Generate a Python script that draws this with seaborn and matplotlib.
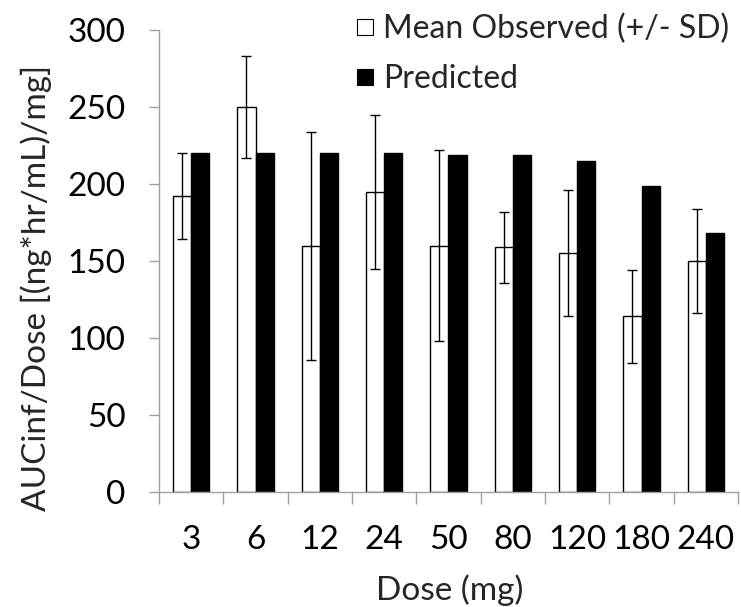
import matplotlib
matplotlib.use("Agg")
import matplotlib.pyplot as plt
import numpy as np
import pandas as pd
import seaborn as sns
from matplotlib.lines import Line2D
from matplotlib.ticker import FixedLocator, NullFormatter

# Dose levels and AUCinf/Dose values
doses = ["3", "6", "12", "24", "50", "80", "120", "180", "240"]
observed_mean = [192, 250, 160, 195, 160, 159, 155, 114, 150]
observed_sd = [28, 33, 74, 50, 62, 23, 41, 30, 34]
predicted = [220, 220, 220, 220, 219, 219, 215, 199, 168]
series_labels = ["Mean Observed (+/- SD)", "Predicted"]
y_ticks = [0, 50, 100, 150, 200, 250, 300]

df = pd.DataFrame({
    "Dose": doses * 2,
    "Value": observed_mean + predicted,
    "Series": [series_labels[0]] * len(doses) + [series_labels[1]] * len(doses),
})

sns.set_theme(style="white")
plt.rcParams["font.family"] = ["Lato", "DejaVu Sans"]
FS = 24
LEG_FS = 23
axis_grey = "#a0a0a0"

fig = plt.figure(figsize=(7.41, 6.07), dpi=100)
ax = fig.add_axes([159 / 741, 115 / 607, 579 / 741, 462 / 607])

sns.barplot(data=df, x="Dose", y="Value", hue="Series", order=doses,
            hue_order=series_labels, palette=["white", "black"], width=0.56,
            errorbar=None, edgecolor="black", linewidth=1.0, saturation=1,
            legend=False, ax=ax)

# SD error bars centred on the observed bars
centers = [p.get_x() + p.get_width() / 2 for p in ax.containers[0]]
ax.errorbar(centers, observed_mean, yerr=observed_sd, fmt="none",
            ecolor="black", elinewidth=1.0, capsize=3.6, capthick=1.0, zorder=5)

ax.set_ylim(0, 300)
ax.set_xlim(-0.5, len(doses) - 0.5)
ax.set_yticks(y_ticks)
ax.set_yticklabels([str(t) for t in y_ticks])

# category labels at centres, tick marks at the boundaries
ax.xaxis.set_minor_locator(FixedLocator(np.arange(-0.5, len(doses), 1.0)))
ax.xaxis.set_minor_formatter(NullFormatter())
ax.tick_params(axis="x", which="major", length=0, pad=24, labelsize=FS, colors="black")
ax.tick_params(axis="x", which="minor", length=8.6, width=1, color=axis_grey, direction="out", bottom=True)
ax.tick_params(axis="y", which="major", length=7.2, width=1, color=axis_grey, direction="out",
               left=True, pad=17, labelsize=FS, labelcolor="black")

for side in ["top", "right"]:
    ax.spines[side].set_visible(False)
for side in ["left", "bottom"]:
    ax.spines[side].set_color(axis_grey)
    ax.spines[side].set_linewidth(1)

ax.set_xlabel("Dose (mg)", fontsize=FS)
ax.set_ylabel("AUCinf/Dose [(ng*hr/mL)/mg]", fontsize=FS)
ax.xaxis.set_label_coords((450 - 159) / 579, (492 - 590) / 462)
ax.xaxis.label.set_va("center")
ax.yaxis.set_label_coords((36 - 159) / 579, (492 - 288) / 462)
ax.yaxis.label.set_va("center")

# square legend keys
handles = [Line2D([], [], linestyle="none", marker="s", markersize=12,
                  markerfacecolor="white", markeredgecolor="black", markeredgewidth=0.8),
           Line2D([], [], linestyle="none", marker="s", markersize=12,
                  markerfacecolor="black", markeredgecolor="black", markeredgewidth=0.8)]
fig.legend(handles, series_labels, loc="upper left",
           bbox_to_anchor=(355.5 / 741, 1 - 14 / 607), frameon=False, fontsize=LEG_FS,
           handlelength=0.6, handletextpad=0.27,
           labelspacing=0.62, borderpad=0, borderaxespad=0)

fig.savefig("out.png", dpi=100)
